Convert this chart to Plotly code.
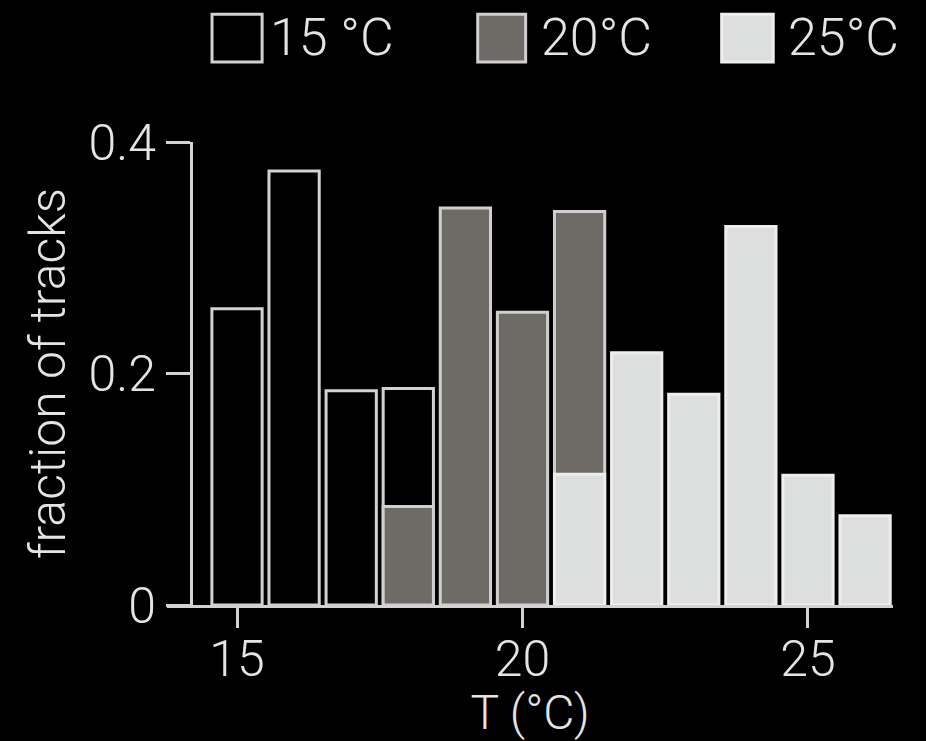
import plotly.graph_objects as go

# data
t15_x = [15, 16, 17, 18]
t15_y = [0.256, 0.375, 0.185, 0.187]
t20_x = [18, 19, 20, 21]
t20_y = [0.085, 0.343, 0.253, 0.340]
t25_x = [21, 22, 23, 24, 25, 26]
t25_y = [0.113, 0.218, 0.182, 0.327, 0.112, 0.077]
legend_labels = ["15 °C", "20°C", "25°C"]
x_ticks = [15, 20, 25]
y_ticks = [0, 0.2, 0.4]
y_tick_text = ["0", "0.2", "0.4"]

FONT = "Roboto, Liberation Sans, Arial, sans-serif"
W = 300
TXT = "#e4e4e4"
EDGE = "#d2d2d2"
fills = ["#000000", "#6e6a66", "#dcdfde"]
edges = [EDGE, "#cfcfcf", "#eeeeee"]

fig = go.Figure()
for xs, ys, f, e, name in zip([t15_x, t20_x, t25_x], [t15_y, t20_y, t25_y],
                              fills, edges, legend_labels):
    fig.add_trace(go.Bar(x=xs, y=ys, width=0.88, name=name,
                         marker=dict(color=f, line=dict(color=e, width=3)),
                         showlegend=False))

# legend swatches and labels (paper coords)
box_x = [(0.062, 0.131), (0.428, 0.494), (0.764, 0.835)]
txt_x = [0.139, 0.512, 0.852]
for (x0, x1), tx, f, e, lab in zip(box_x, txt_x, fills, edges, legend_labels):
    fig.add_shape(type="rect", xref="paper", yref="paper", x0=x0, x1=x1,
                  y0=1.173, y1=1.276, fillcolor=f, line=dict(color=e, width=3))
    fig.add_annotation(xref="paper", yref="paper", x=tx, y=1.225, text=lab,
                       showarrow=False, xanchor="left", yanchor="middle",
                       font=dict(family=FONT, size=52, color=TXT, weight=W))

fig.update_layout(
    width=926, height=741,
    paper_bgcolor="black", plot_bgcolor="black",
    margin=dict(l=167, r=33, t=142, b=136),
    barmode="overlay",
    font=dict(family=FONT, size=48, color=TXT, weight=W),
    xaxis=dict(range=[13.774, 26.489], tickvals=x_ticks, ticks="outside",
               ticklen=20, tickwidth=3, tickcolor=EDGE, showline=True,
               linecolor=EDGE, linewidth=3, showgrid=False, zeroline=False,
               ticklabelstandoff=-12,
               title=dict(text="T (°C)", font=dict(family=FONT, size=48, color=TXT, weight=W), standoff=2),
               tickfont=dict(family=FONT, size=50, color=TXT, weight=W)),
    yaxis=dict(range=[0, 0.4], tickvals=y_ticks, ticktext=y_tick_text,
               ticks="outside", ticklen=24, tickwidth=3, tickcolor=EDGE,
               showline=True, linecolor=EDGE, linewidth=3, showgrid=False,
               zeroline=False, anchor="free", position=0.033, automargin=True,
               title=dict(text="fraction of tracks", standoff=6,
                          font=dict(family=FONT, size=50, color=TXT, weight=W)),
               tickfont=dict(family=FONT, size=50, color=TXT, weight=W)),
)

fig.write_html("out.html", config={"displayModeBar": False},
               post_script="document.body.style.margin='0';document.body.style.background='black';")
